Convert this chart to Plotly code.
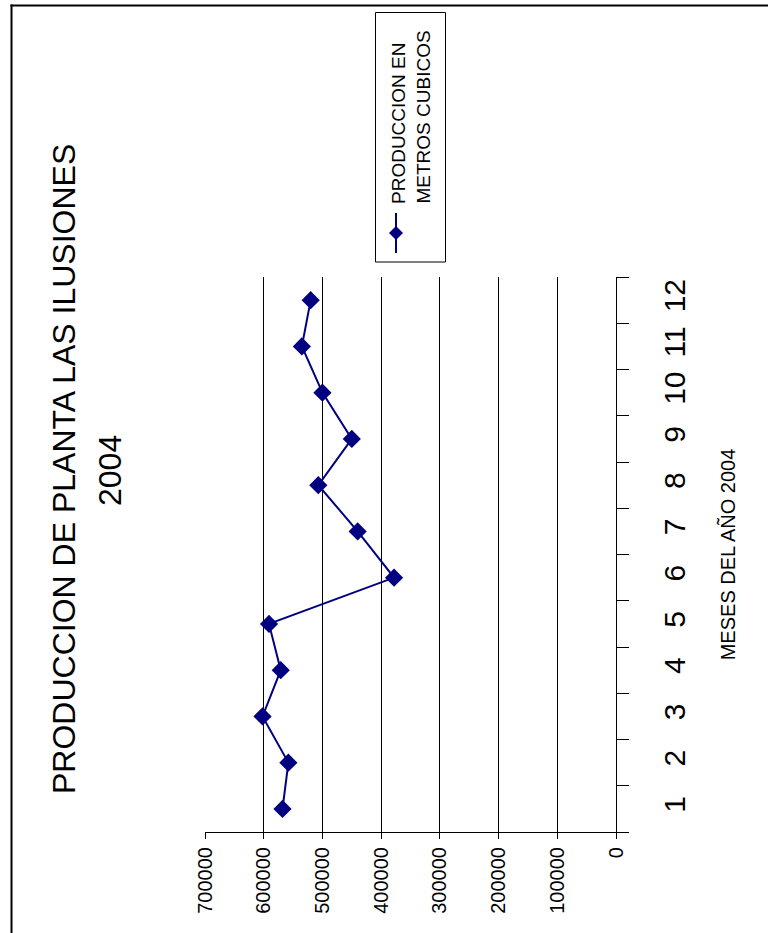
import plotly.graph_objects as go

# Monthly production, Planta Las Ilusiones, 2004 (cubic metres)
meses = ["1", "2", "3", "4", "5", "6", "7", "8", "9", "10", "11", "12"]
produccion = [568000, 558000, 602000, 571000, 591000, 378000,
              440000, 507000, 450000, 500000, 535000, 520000]
valor_ticks = [0, 100000, 200000, 300000, 400000, 500000, 600000, 700000]
valor_labels = [str(v) for v in valor_ticks]

titulo = "PRODUCCION DE PLANTA LAS ILUSIONES"
subtitulo = "2004"
titulo_eje = "MESES DEL AÑO 2004"
serie = ["PRODUCCION EN", "METROS CUBICOS"]

NAVY = "#000080"
FONT = "Arial, Liberation Sans, sans-serif"

# page geometry (pixels) and plot-area margins
W, H = 768, 933
L, R, T, B = 205, 152, 277, 101
PW, PH = W - L - R, H - T - B


def px(x):
    return (x - L) / PW


def py(y):
    return (H - B - y) / PH


fig = go.Figure()
fig.add_trace(go.Scatter(
    x=produccion, y=meses, mode="lines+markers",
    line=dict(color=NAVY, width=2),
    marker=dict(symbol="diamond", size=14, color=NAVY),
    showlegend=False, cliponaxis=False,
))

fig.update_layout(
    width=W, height=H,
    margin=dict(l=L, r=R, t=T, b=B, pad=0),
    paper_bgcolor="white", plot_bgcolor="white",
    font=dict(family=FONT, color="black"),
    xaxis=dict(
        range=[700000, 0], tickvals=valor_ticks, ticktext=valor_labels,
        tickangle=-90, tickfont=dict(size=20),
        showgrid=True, gridcolor="black", gridwidth=1,
        zeroline=False, showline=True, linecolor="black", linewidth=1,
        ticks="outside", ticklen=6, tickcolor="black",
    ),
    yaxis=dict(
        type="category", categoryorder="array", categoryarray=meses,
        range=[-0.5, len(meses) - 0.5],
        side="right", tickangle=-90, tickfont=dict(size=30),
        tickson="boundaries", ticks="outside", ticklen=12, tickcolor="black",
        showline=True, linecolor="black", linewidth=1,
        showgrid=False, zeroline=False, ticklabelstandoff=32,
        title=dict(text=titulo_eje, font=dict(size=20), standoff=30),
    ),
)

# chart title, written bottom-to-top
fig.add_annotation(text=titulo, x=px(64), y=py(469), xref="paper", yref="paper",
                   textangle=-90, showarrow=False, font=dict(size=32),
                   xanchor="center", yanchor="middle")
fig.add_annotation(text=subtitulo, x=px(110), y=py(471), xref="paper", yref="paper",
                   textangle=-90, showarrow=False, font=dict(size=32),
                   xanchor="center", yanchor="middle")

# outer chart frame: left and top edges only
fig.add_shape(type="line", xref="paper", yref="paper",
              x0=px(11.5), x1=px(11.5), y0=py(4.5), y1=py(H),
              line=dict(color="black", width=2), layer="below")
fig.add_shape(type="line", xref="paper", yref="paper",
              x0=px(10.5), x1=px(W), y0=py(5.5), y1=py(5.5),
              line=dict(color="black", width=2), layer="below")

# series key, drawn rotated like the rest of the chart
fig.add_shape(type="rect", xref="paper", yref="paper",
              x0=px(375.5), x1=px(445.5), y0=py(12.5), y1=py(262),
              line=dict(color="black", width=1), fillcolor="white")
fig.add_shape(type="line", xref="paper", yref="paper",
              x0=px(396), x1=px(396), y0=py(213), y1=py(253),
              line=dict(color=NAVY, width=2))
cx, cy, hw = 396, 233, 7
fig.add_shape(type="path", xref="paper", yref="paper",
              path=(f"M {px(cx - hw)},{py(cy)} L {px(cx)},{py(cy - hw)} "
                    f"L {px(cx + hw)},{py(cy)} L {px(cx)},{py(cy + hw)} Z"),
              fillcolor=NAVY, line=dict(color=NAVY, width=0))
for i, linea in enumerate(serie):
    fig.add_annotation(text=linea, x=px(398 + 25 * i), y=py(206),
                       xref="paper", yref="paper", textangle=-90,
                       showarrow=False, font=dict(size=19),
                       xanchor="center", yanchor="bottom")

fig.write_html("out.html")
